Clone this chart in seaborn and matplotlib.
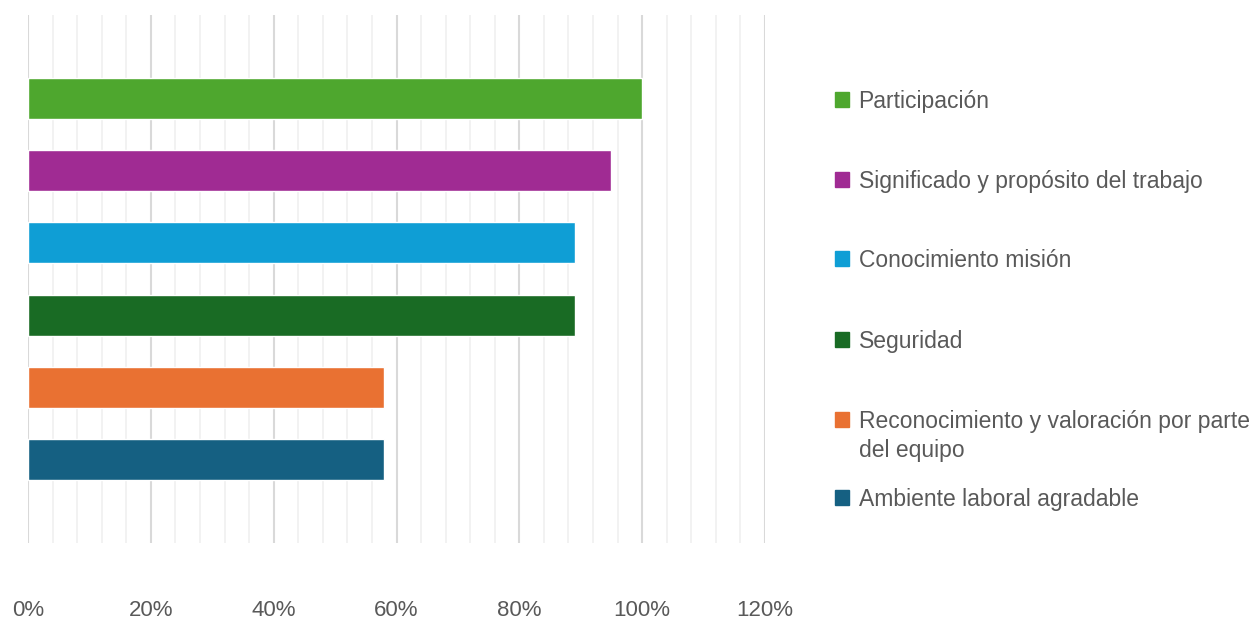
import matplotlib
matplotlib.use("Agg")
import matplotlib.pyplot as plt
from matplotlib.patches import Patch
from matplotlib.ticker import MultipleLocator, FuncFormatter
import seaborn as sns
import pandas as pd

categories = [
    "Participación",
    "Significado y propósito del trabajo",
    "Conocimiento misión",
    "Seguridad",
    "Reconocimiento y valoración por parte\ndel equipo",
    "Ambiente laboral agradable",
]
values = [1.00, 0.95, 0.89, 0.89, 0.58, 0.58]
colors = ["#4EA72E", "#A02B93", "#0F9ED5", "#196B24", "#E97132", "#156082"]
x_ticks = [0.0, 0.2, 0.4, 0.6, 0.8, 1.0, 1.2]

df = pd.DataFrame({"cat": categories, "val": values})

sns.set_theme(style="white")
plt.rcParams["font.family"] = ["Liberation Sans", "DejaVu Sans"]
text_color = "#595959"

W, H = 1260, 621
fig = plt.figure(figsize=(12.6, 6.21), dpi=100)
ax = fig.add_axes([28 / W, 1 - 543 / H, (765 - 28) / W, (543 - 15) / H])

sns.barplot(data=df, y="cat", x="val", hue="cat", palette=colors,
            order=categories, hue_order=categories, legend=False,
            width=0.57, saturation=1, ax=ax, zorder=3)

ax.set_xlim(0, 1.2)
ax.set_ylim(5 + 1.15, -1.15)
ax.set_xticks(x_ticks)
ax.xaxis.set_minor_locator(MultipleLocator(0.04))
ax.xaxis.set_major_formatter(FuncFormatter(lambda v, p: f"{v*100:.0f}%"))
ax.grid(axis="x", which="major", color="#d9d9d9", linewidth=1.5, zorder=0)
ax.grid(axis="x", which="minor", color="#f0f0f0", linewidth=1.2, zorder=0)
ax.set_axisbelow(True)
ax.tick_params(axis="x", which="both", length=0, pad=41, labelsize=16, labelcolor=text_color)
ax.set_yticks([])
ax.set_xlabel("")
ax.set_ylabel("")
for s in ax.spines.values():
    s.set_visible(False)

legend_y = [100, 180, 259, 340, 420, 498]
extra_lines = []
for cat, col, yy in zip(categories, colors, legend_y):
    lines = cat.split("\n")
    leg = fig.legend(handles=[Patch(facecolor=col, edgecolor=col)], labels=[lines[0]],
                     loc="upper left", bbox_to_anchor=(826 / W, 1 - (yy - 19.5) / H),
                     frameon=False, fontsize=16.5, handlelength=0.62, handleheight=0.62,
                     handletextpad=0.4, labelcolor=text_color, borderaxespad=0)
    if len(lines) > 1:
        extra_lines.append((leg, lines[1:]))

fig.canvas.draw()
renderer = fig.canvas.get_renderer()
for leg, rest in extra_lines:
    bb = leg.get_texts()[0].get_window_extent(renderer)
    for i, line in enumerate(rest, start=1):
        fig.text(bb.x0 / W, (bb.y0 - 29 * i) / H, line, fontsize=16.5,
                 color=text_color, ha="left", va="bottom")

fig.savefig("out.png", dpi=100, facecolor="white")
